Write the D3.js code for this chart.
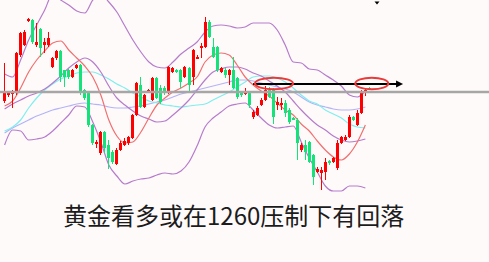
<!DOCTYPE html>
<html lang="zh">
<head>
<meta charset="UTF-8">
<title>黄金看多或在1260压制下有回落</title>
<script src="https://d3js.org/d3.v7.min.js"></script>
<style>
  html, body { margin: 0; padding: 0; background: #fffafa; overflow: hidden; }
  svg { display: block; }
  .caption { font-family: "Noto Sans CJK SC", "Noto Sans", sans-serif; font-size: 24px; fill: #1c1c1c; }
</style>
</head>
<body>
<svg id="chart" width="489" height="262"></svg>
<script>
// K线 (价格), 一根一个值
const opens = [1243,1249,1250,1252,1289,1299,1323,1324,1299,1315,
  1299,1299,1277,1286,1293,1274,1274,1267,1276,1279,
  1254,1252,1219,1201,1191,1212,1199,1192,1180,1194,
  1199,1201,1206,1229,1259,1237,1252,1244,1266,1256,
  1256,1251,1272,1274,1274,1267,1276,1267,1286,1296,
  1297,1322,1297,1297,1272,1274,1269,1274,1266,1251,
  1250,1251,1227,1229,1239,1244,1254,1254,1239,1239,
  1241,1234,1226,1224,1194,1199,1202,1189,1172,1171,
  1172,1183,1182,1176,1201,1204,1207,1227,1219,1231,
  1251,1256];
const highs = [1281,1252,1254,1292,1312,1314,1326,1325,1321,1316,
  1306,1312,1287,1294,1294,1274,1275,1275,1280,1280,
  1255,1253,1220,1204,1213,1213,1204,1194,1196,1203,
  1206,1208,1230,1262,1267,1250,1255,1267,1267,1259,
  1258,1278,1277,1275,1275,1278,1277,1295,1289,1301,
  1327,1324,1306,1298,1277,1276,1275,1287,1267,1252,
  1256,1252,1234,1238,1246,1258,1257,1256,1247,1246,
  1244,1236,1227,1226,1201,1204,1203,1190,1177,1177,
  1186,1184,1187,1204,1208,1209,1229,1228,1234,1254,
  1256,1257];
const lows = [1241,1247,1236,1249,1287,1298,1322,1300,1297,1287,
  1291,1297,1276,1284,1262,1257,1265,1266,1275,1249,
  1244,1217,1199,1196,1189,1191,1175,1180,1179,1193,
  1198,1199,1205,1228,1236,1236,1251,1243,1245,1240,
  1249,1250,1271,1271,1256,1266,1252,1259,1285,1286,
  1296,1306,1286,1272,1271,1266,1259,1255,1245,1247,
  1249,1236,1225,1228,1238,1243,1246,1220,1234,1234,
  1227,1220,1224,1184,1192,1184,1181,1159,1171,1154,
  1164,1179,1181,1174,1200,1203,1206,1223,1218,1230,
  1248,1254];
const closes = [1251,1251,1252,1291,1311,1312,1325,1302,1302,1296,
  1302,1306,1286,1293,1267,1267,1267,1274,1279,1252,
  1246,1219,1201,1202,1212,1196,1186,1182,1194,1201,
  1203,1207,1229,1261,1237,1249,1254,1266,1246,1242,
  1251,1277,1276,1272,1262,1277,1259,1294,1287,1298,
  1322,1307,1287,1274,1276,1269,1274,1256,1247,1249,
  1252,1239,1232,1236,1244,1254,1247,1227,1242,1241,
  1231,1222,1225,1201,1199,1192,1182,1167,1175,1174,
  1182,1181,1186,1201,1207,1207,1227,1224,1231,1252,
  1254,1255];

// 指标线, 每两根K线取一个值 (第0,2,4...根)
const lineBars = d3.range(0, 92, 2);
const bollUpper = [1270,1267,1284,1304,1319,1334,1350,1344,1339,1333,1331,1344,1350,1342,1332,1318,
  1304,1292,1282,1277,1276,1282,1290,1296,1302,1312,1318,1319,1318,1316,1317,1321,1321,1321,1314,1299,
  1282,1281,1275,1274,1269,1264,1258,1249,1247,1253];
const bollMid = [1235,1240,1244,1248,1251,1255,1261,1268,1276,1282,1286,1282,1272,1258,1246,1239,
  1233,1228,1225,1222,1223,1229,1236,1244,1254,1264,1272,1275,1277,1277,1275,1271,1268,1263,1258,1252,
  1243,1234,1226,1219,1214,1208,1204,1202,1203,1205];
const bollLower = [1199,1214,1213,1204,1205,1207,1213,1221,1229,1238,1237,1222,1202,1179,1168,1160,
  1163,1165,1166,1169,1171,1170,1173,1182,1198,1217,1226,1232,1238,1240,1241,1234,1226,1219,1216,1217,
  1218,1202,1186,1172,1158,1153,1153,1158,1158,1156];
const maFast = [1238,1243,1256,1272,1284,1293,1301,1303,1294,1286,1278,1267,1249,1224,1208,1201,
  1202,1212,1226,1239,1246,1252,1256,1261,1267,1282,1289,1291,1289,1279,1267,1259,1253,1248,1241,1234,
  1229,1220,1213,1203,1194,1187,1184,1190,1202,1219];
const maMid = [1213,1217,1224,1236,1246,1254,1260,1265,1268,1271,1272,1272,1269,1265,1260,1256,
  1251,1247,1243,1241,1239,1238,1237,1238,1239,1240,1244,1248,1252,1257,1262,1267,1268,1268,1266,1262,
  1256,1249,1243,1240,1234,1230,1226,1220,1217,1216];
const maSlow = [1211,1216,1220,1224,1228,1231,1234,1236,1238,1240,1241,1240,1239,1237,1236,1236,
  1237,1238,1240,1242,1244,1247,1250,1252,1254,1256,1258,1260,1262,1264,1264,1263,1261,1259,1257,1255,
  1252,1247,1242,1239,1237,1235,1234,1234,1235,1237];

const lastPrice = 1252;      // 灰色现价线
const resistance = 1260;     // 压力位
const circledBars = [67.2, 91.6];

const svg = d3.select("#chart");
const width = 489, height = 262;

svg.append("rect").attr("width", width).attr("height", height).attr("fill", "#fffafa");

const x = d3.scaleBand()
  .domain(d3.range(opens.length))
  .range([2, 372])
  .padding(0.3);
const xc = i => x(i) + x.bandwidth() / 2;
// 连续的K线序号 -> 像素
const xi = d3.scaleLinear().domain([0, 1]).range([xc(0), xc(1)]);
const y = d3.scaleLinear().domain([1082, 1344]).range([height, 0]);

// 指标线
const lineGen = vals => d3.line()
  .x((d, k) => xc(lineBars[k]))
  .y(d => y(d))
  .curve(d3.curveMonotoneX)(vals);

const lines = [
  { vals: maSlow, color: "#b3b3f7" },
  { vals: maMid, color: "#7eeeee" },
  { vals: bollUpper, color: "#b57ccb" },
  { vals: bollMid, color: "#b57ccb" },
  { vals: bollLower, color: "#b57ccb" },
  { vals: maFast, color: "#f07070" }
];
svg.append("g").selectAll("path")
  .data(lines)
  .join("path")
  .attr("d", d => lineGen(d.vals))
  .attr("fill", "none")
  .attr("stroke", d => d.color)
  .attr("stroke-width", 1.2);

// K线
const bars = opens.map((o, i) => ({ i, o, h: highs[i], l: lows[i], c: closes[i] }));
const upColor = "#ff0000", downColor = "#14e37a";
const kg = svg.append("g").attr("shape-rendering", "crispEdges");
kg.selectAll("line")
  .data(bars)
  .join("line")
  .attr("x1", d => Math.round(xc(d.i) - 1.5) + 1.5)
  .attr("x2", d => Math.round(xc(d.i) - 1.5) + 1.5)
  .attr("y1", d => y(d.h))
  .attr("y2", d => y(d.l))
  .attr("stroke", d => d.c >= d.o ? upColor : downColor)
  .attr("stroke-width", 1);
kg.selectAll("rect")
  .data(bars)
  .join("rect")
  .attr("x", d => Math.round(xc(d.i) - 1.5))
  .attr("width", 3)
  .attr("y", d => y(Math.max(d.o, d.c)))
  .attr("height", d => Math.max(1.5, Math.abs(y(d.o) - y(d.c))))
  .attr("fill", d => d.c >= d.o ? upColor : downColor);

// 现价线
svg.append("line")
  .attr("x1", 0).attr("x2", width)
  .attr("y1", y(lastPrice)).attr("y2", y(lastPrice))
  .attr("stroke", "#a6a6a6")
  .attr("stroke-width", 2.5);

// 压力位箭头
const ay = y(resistance);
const ax0 = xi(62), ax1 = xi(99.4);
svg.append("line")
  .attr("x1", ax0).attr("x2", ax1 - 4)
  .attr("y1", ay).attr("y2", ay)
  .attr("stroke", "#000")
  .attr("stroke-width", 2);
svg.append("path")
  .attr("d", `M${ax1},${ay} L${ax1 - 7},${ay - 3.5} L${ax1 - 7},${ay + 3.5} Z`)
  .attr("fill", "#000");

// 红圈
svg.append("g").selectAll("ellipse")
  .data(circledBars)
  .join("ellipse")
  .attr("cx", d => xi(d))
  .attr("cy", y(resistance + 0.5))
  .attr("rx", (d, k) => k === 0 ? 19 : 16.5)
  .attr("ry", 5.8)
  .attr("fill", "none")
  .attr("stroke", "#ec3a3a")
  .attr("stroke-width", 2);

// 顶部小三角
svg.append("path")
  .attr("d", "M374.5,1.5 L379.5,1.5 L377,4.5 Z")
  .attr("fill", "#000");

// 说明文字
svg.append("text")
  .attr("class", "caption")
  .attr("x", 63)
  .attr("y", 225)
  .text("黄金看多或在1260压制下有回落");
</script>
</body>
</html>
